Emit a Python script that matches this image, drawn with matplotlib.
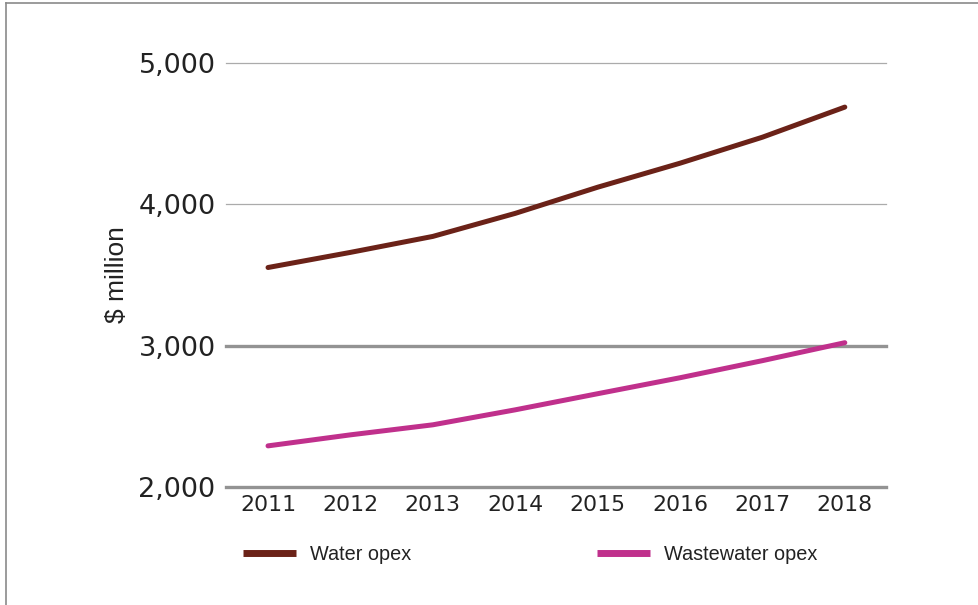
import matplotlib
matplotlib.use("Agg")
import matplotlib.pyplot as plt
from matplotlib.lines import Line2D
from matplotlib.font_manager import FontProperties

years = [2011, 2012, 2013, 2014, 2015, 2016, 2017, 2018]
water_opex = [3553, 3660, 3773, 3936, 4121, 4291, 4475, 4688]
wastewater_opex = [2291, 2369, 2440, 2546, 2660, 2773, 2894, 3021]
y_ticks = [2000, 3000, 4000, 5000]
y_tick_labels = ["2,000", "3,000", "4,000", "5,000"]
series_names = ["Water opex", "Wastewater opex"]

W, H = 979, 605
fig = plt.figure(figsize=(W / 100, H / 100), dpi=100)
fig.patch.set_facecolor("white")

L, R, T, B = 226, 886, 63, 487
ax = fig.add_axes([L / W, 1 - B / H, (R - L) / W, (B - T) / H])
ax.set_xlim(2010.49, 2018.5)
ax.set_ylim(2000, 5000)

for v in y_ticks:
    if v in (2000, 3000):
        ax.axhline(v, color="#939393", lw=2.4, zorder=1, clip_on=False)
    else:
        ax.axhline(v, color="#ababab", lw=0.9, zorder=1, clip_on=False)

water_color = "#6b2218"
waste_color = "#c0308c"
ax.plot(years, water_opex, color=water_color, lw=3.6, solid_capstyle="round", zorder=3, clip_on=False)
ax.plot(years, wastewater_opex, color=waste_color, lw=3.6, solid_capstyle="round", zorder=3, clip_on=False)

for s in ax.spines.values():
    s.set_visible(False)

ytick_fp = FontProperties(family="DejaVu Sans", size=19.5)
xtick_fp = FontProperties(family="DejaVu Sans", size=15.8)
ax.set_yticks(y_ticks)
ax.set_yticklabels(y_tick_labels)
for t in ax.get_yticklabels():
    t.set_fontproperties(ytick_fp)
    t.set_color("#222222")
ax.set_xticks(years)
ax.set_xticklabels([str(y) for y in years])
for t in ax.get_xticklabels():
    t.set_fontproperties(xtick_fp)
    t.set_color("#222222")
ax.tick_params(axis="y", length=0, pad=7.5)
ax.tick_params(axis="x", length=0, pad=6)
ax.set_ylabel("$ million", fontproperties=FontProperties(family="Liberation Sans", size=19), color="#222222")
ax.yaxis.set_label_coords((117 - L) / (R - L), 0.5)
ax.yaxis.label.set_verticalalignment("center")

leg_fp = FontProperties(family="Liberation Sans", size=14.3)
leg_kw = dict(frameon=False, handlelength=2.65, handletextpad=0.7,
              loc="center left", borderaxespad=0, borderpad=0, prop=leg_fp)
leg1 = fig.legend(handles=[Line2D([0], [0], color=water_color, lw=5, solid_capstyle="butt")],
                  labels=[series_names[0]], bbox_to_anchor=(243 / W, 1 - 554 / H), **leg_kw)
leg2 = fig.legend(handles=[Line2D([0], [0], color=waste_color, lw=5, solid_capstyle="butt")],
                  labels=[series_names[1]], bbox_to_anchor=(597 / W, 1 - 554 / H), **leg_kw)
for lg in (leg1, leg2):
    for t in lg.get_texts():
        t.set_color("#222222")

# figure frame (left and top edges)
fig.add_artist(Line2D([6 / W, 6 / W], [0, 1 - 3 / H], transform=fig.transFigure, color="#8a8a8a", lw=1.2))
fig.add_artist(Line2D([6 / W, 1], [1 - 3 / H, 1 - 3 / H], transform=fig.transFigure, color="#8a8a8a", lw=1.2))

fig.savefig("out.png", dpi=100, facecolor="white")
